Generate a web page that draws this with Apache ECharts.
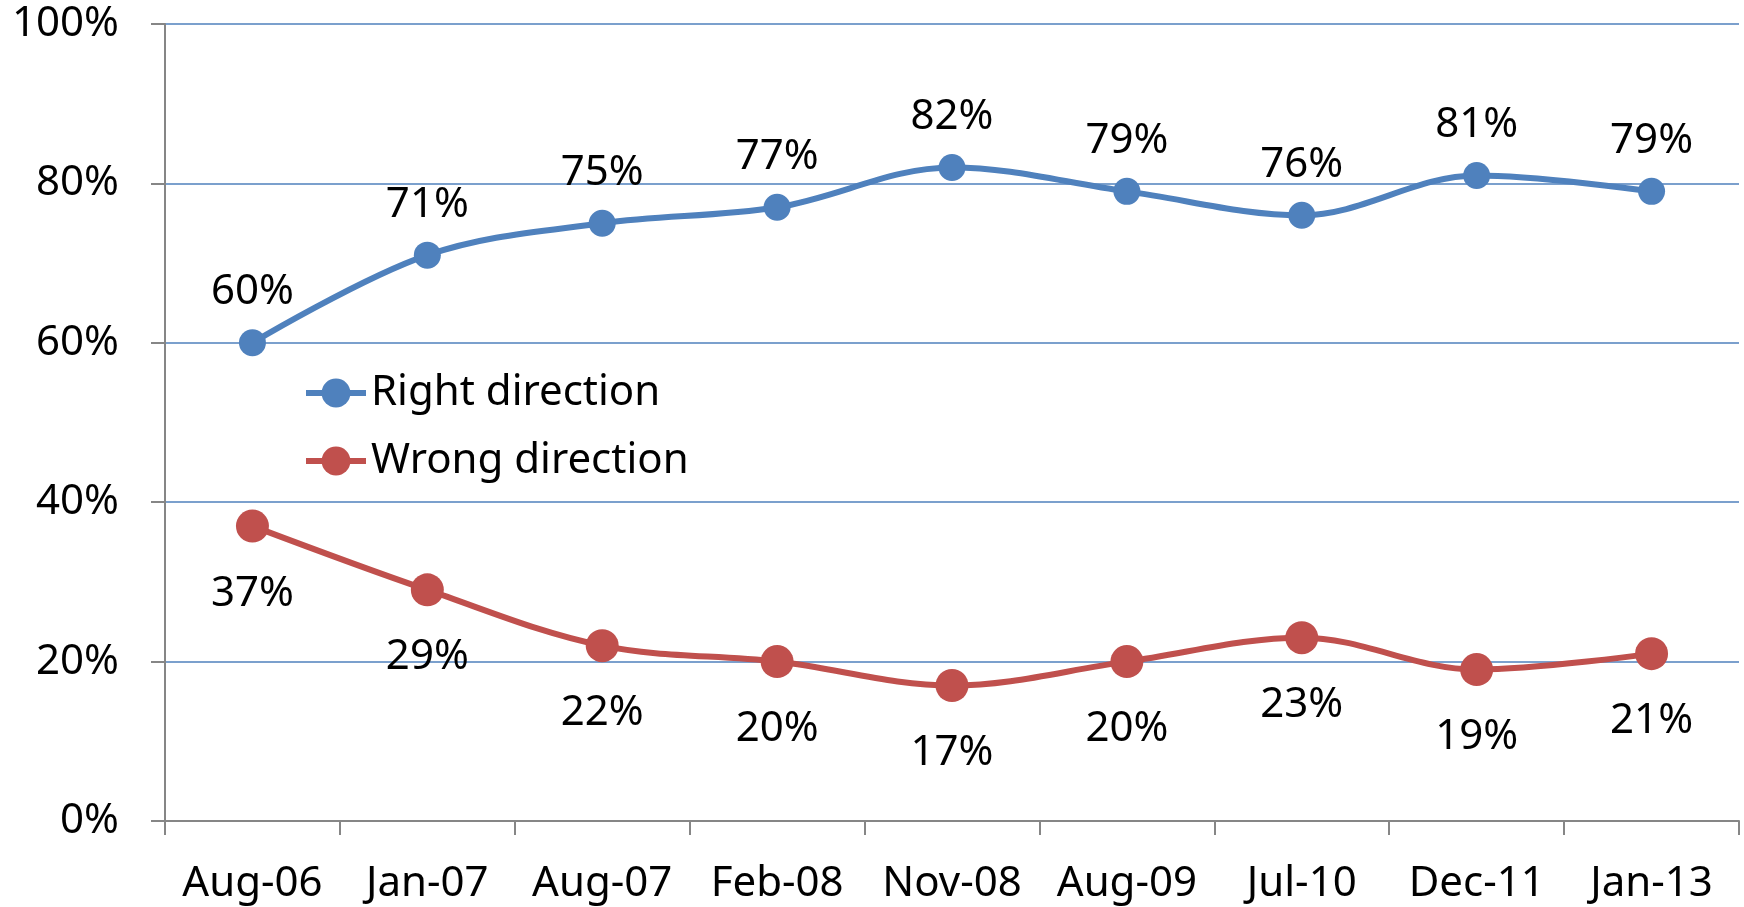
<!DOCTYPE html>
<html>
<head>
<meta charset="utf-8">
<script src="https://cdn.jsdelivr.net/npm/echarts@6/dist/echarts.min.js"></script>
<style>
html,body{margin:0;padding:0;background:#fff;}
#c{width:1744px;height:907px;}
</style>
</head>
<body>
<div id="c"></div>
<script>
const categories = ['Aug-06','Jan-07','Aug-07','Feb-08','Nov-08','Aug-09','Jul-10','Dec-11','Jan-13'];
const rightDirection = [60,71,75,77,82,79,76,81,79];
const wrongDirection = [37,29,22,20,17,20,23,19,21];
const yTicks = {min:0, max:100, interval:20};

const FONT = '"Noto Sans", sans-serif';
const FS = 42;
const chart = echarts.init(document.getElementById('c'));
chart.setOption({
  animation:false,
  backgroundColor:'#fff',
  textStyle:{fontFamily:FONT},
  grid:{left:165, right:5, top:24, bottom:86},
  legend:{
    orient:'vertical', left:298, top:367, itemGap:26,
    itemWidth:60, itemHeight:36,
    lineStyle:{width:6},
    textStyle:{fontSize:FS, color:'#000', fontFamily:FONT},
    data:['Right direction','Wrong direction']
  },
  xAxis:{
    type:'category', data:categories, boundaryGap:true,
    axisLine:{lineStyle:{color:'#868686', width:2}},
    axisTick:{show:true, length:14, interval:0, lineStyle:{color:'#868686', width:2}},
    axisLabel:{fontSize:FS, color:'#000', margin:42, interval:0, fontFamily:FONT}
  },
  yAxis:{
    type:'value', min:yTicks.min, max:yTicks.max, interval:yTicks.interval,
    axisLine:{show:true, lineStyle:{color:'#868686', width:2}},
    axisTick:{show:true, length:14, lineStyle:{color:'#868686', width:2}},
    axisLabel:{fontSize:FS, color:'#000', margin:46, formatter:'{value}%', fontFamily:FONT},
    splitLine:{lineStyle:{color:'#4F81BD', width:1.5}}
  },
  series:[
    {
      name:'Right direction', type:'line', data:rightDirection, smooth:0.35,
      symbol:'circle', symbolSize:27,
      itemStyle:{color:'#4F81BD'},
      lineStyle:{color:'#4F81BD', width:6},
      label:{show:true, position:'top', distance:16, formatter:'{c}%', fontSize:FS, color:'#000', fontFamily:FONT}
    },
    {
      name:'Wrong direction', type:'line', data:wrongDirection, smooth:0.35,
      symbol:'circle', symbolSize:33,
      itemStyle:{color:'#C0504D'},
      lineStyle:{color:'#C0504D', width:6},
      label:{show:true, position:'bottom', distance:30, formatter:'{c}%', fontSize:FS, color:'#000', fontFamily:FONT}
    }
  ]
});
</script>
</body>
</html>
